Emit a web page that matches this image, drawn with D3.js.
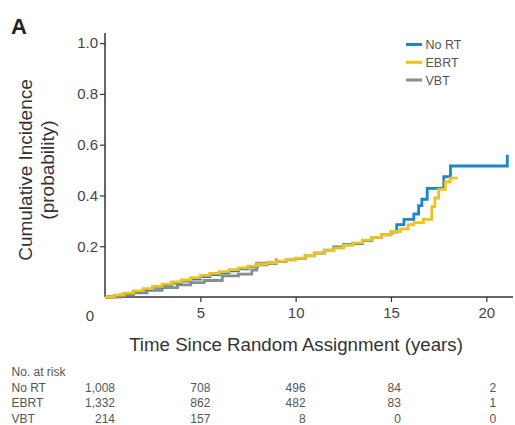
<!DOCTYPE html>
<html>
<head>
<meta charset="utf-8">
<script src="https://cdn.jsdelivr.net/npm/d3@7"></script>
<style>
  html, body { margin: 0; padding: 0; background: #fff; }
  svg { display: block; font-family: "Liberation Sans", Arial, sans-serif; }
</style>
</head>
<body>
<svg id="chart" width="515" height="425"></svg>
<script>
// ---- data ----
const seriesNames = ["No RT", "EBRT", "VBT"];
const seriesColors = ["#1a86cc", "#f2c21b", "#8c8c8c"];

const noRtTime = [0,0.5,1,1.5,2,2.5,3,3.5,4,4.5,5,5.5,6,6.5,7,7.5,8,8.5,9,9.5,10,10.5,11,11.5,12,12.5,13,13.5,14,14.5,15,15.3,15.68,16.2,16.45,16.62,16.9,17.77,18.12,21.1];
const noRtCI   = [0,0.006,0.013,0.021,0.03,0.038,0.047,0.055,0.063,0.071,0.08,0.088,0.095,0.103,0.111,0.119,0.127,0.134,0.14,0.146,0.152,0.162,0.173,0.185,0.197,0.206,0.21,0.222,0.235,0.245,0.256,0.285,0.306,0.327,0.36,0.385,0.428,0.474,0.516,0.56];

const ebrtTime = [0,0.5,1,1.5,2,2.5,3,3.5,4,4.5,5,5.5,6,6.5,7,7.5,8,8.5,9,9.5,10,10.5,11,11.5,12,12.5,13,13.5,14,14.5,15,15.5,15.9,16.2,16.7,17.14,17.3,17.5,17.85,18.1,18.5];
const ebrtCI   = [0,0.007,0.015,0.024,0.033,0.042,0.051,0.059,0.067,0.076,0.085,0.093,0.1,0.108,0.115,0.122,0.129,0.135,0.141,0.147,0.153,0.163,0.174,0.184,0.193,0.203,0.213,0.224,0.235,0.246,0.258,0.268,0.285,0.293,0.306,0.356,0.39,0.424,0.454,0.468,0.468];

const vbtTime = [0,0.8,1.5,2.2,3,3.8,4.5,5.2,6.15,7,7.7,7.96,8.98];
const vbtCI   = [0,0.008,0.016,0.026,0.037,0.048,0.057,0.065,0.083,0.09,0.106,0.133,0.152];

const xTicks = [5, 10, 15, 20];
const yTicks = [0.2, 0.4, 0.6, 0.8, 1.0];

const riskTimes = [0, 5, 10, 15, 20];
const riskNoRT = ["1,008", "708", "496", "84", "2"];
const riskEBRT = ["1,332", "862", "482", "83", "1"];
const riskVBT  = ["214", "157", "8", "0", "0"];

// ---- layout ----
const svg = d3.select("#chart");
const x = d3.scaleLinear().domain([0, 21.4]).range([105, 513]);
const y = d3.scaleLinear().domain([0, 1.04]).range([297, 33]);
const axisColor = "#333";

// panel letter
svg.append("text").attr("x", 11).attr("y", 33.5)
  .attr("font-size", 22).attr("font-weight", "bold").attr("fill", "#222").text("A");

// axes
const yAxis = svg.append("g").attr("transform", `translate(${x(0)},0)`)
  .call(d3.axisLeft(y).tickValues(yTicks).tickFormat(d3.format(".1f")).tickSize(5).tickPadding(2));
const xAxis = svg.append("g").attr("transform", `translate(0,${y(0)})`)
  .call(d3.axisBottom(x).tickValues(xTicks).tickFormat(d3.format("d")).tickSize(5).tickPadding(5));
[yAxis, xAxis].forEach(g => {
  g.select(".domain").attr("stroke", axisColor).attr("stroke-width", 1.5);
  g.selectAll(".tick line").attr("stroke", axisColor).attr("stroke-width", 1.2);
  g.selectAll(".tick text").attr("fill", "#444").attr("font-size", 15)
    .attr("font-family", "Liberation Sans, Arial, sans-serif");
});
yAxis.select(".domain").attr("d", `M0,${y(0)}V${y(1.04)}`);
xAxis.select(".domain").attr("d", `M${x(0)},0H${x(21.4)}`);

// shared origin label
svg.append("text").attr("x", 90).attr("y", 320.5).attr("text-anchor", "middle")
  .attr("font-size", 15).attr("fill", "#444").text("0");

// axis titles
svg.append("text").attr("x", 296).attr("y", 351).attr("text-anchor", "middle")
  .attr("font-size", 18.7).attr("fill", "#333").text("Time Since Random Assignment (years)");
const yt = svg.append("g").attr("transform", "translate(0,170) rotate(-90)");
yt.append("text").attr("x", 0).attr("y", 32).attr("text-anchor", "middle")
  .attr("font-size", 19).attr("fill", "#333").text("Cumulative Incidence");
yt.append("text").attr("x", 0).attr("y", 54).attr("text-anchor", "middle")
  .attr("font-size", 19).attr("fill", "#333").text("(probability)");

// lines
const line = d3.line().x(d => x(d[0])).y(d => y(d[1])).curve(d3.curveStepAfter);
const series = [
  { name: "VBT", t: vbtTime, v: vbtCI, color: seriesColors[2] },
  { name: "No RT", t: noRtTime, v: noRtCI, color: seriesColors[0] },
  { name: "EBRT", t: ebrtTime, v: ebrtCI, color: seriesColors[1] }
];
series.forEach(s => {
  svg.append("path").datum(s.t.map((t, i) => [t, s.v[i]]))
    .attr("d", line).attr("fill", "none").attr("stroke", s.color)
    .attr("stroke-width", 2.8).attr("stroke-linejoin", "miter");
});

// legend
const legY = [44.5, 62.3, 80];
seriesNames.forEach((n, i) => {
  svg.append("line").attr("x1", 406).attr("x2", 422).attr("y1", legY[i]).attr("y2", legY[i])
    .attr("stroke", seriesColors[i]).attr("stroke-width", 3);
  svg.append("text").attr("x", 425.5).attr("y", legY[i] + 4.5)
    .attr("font-size", 12.5).attr("fill", "#555").text(n);
});

// number at risk table
const tableFont = 12;
svg.append("text").attr("x", 11.5).attr("y", 376).attr("font-size", tableFont).attr("fill", "#555").text("No. at risk");
const rows = [riskNoRT, riskEBRT, riskVBT];
const rowY = [391.5, 407, 422.5];
rows.forEach((r, i) => {
  svg.append("text").attr("x", 11.5).attr("y", rowY[i]).attr("font-size", tableFont).attr("fill", "#555").text(seriesNames[i]);
  r.forEach((v, j) => {
    svg.append("text").attr("x", x(riskTimes[j]) + 10).attr("y", rowY[i])
      .attr("text-anchor", "end").attr("font-size", tableFont).attr("fill", "#555").text(v);
  });
});
</script>
</body>
</html>
